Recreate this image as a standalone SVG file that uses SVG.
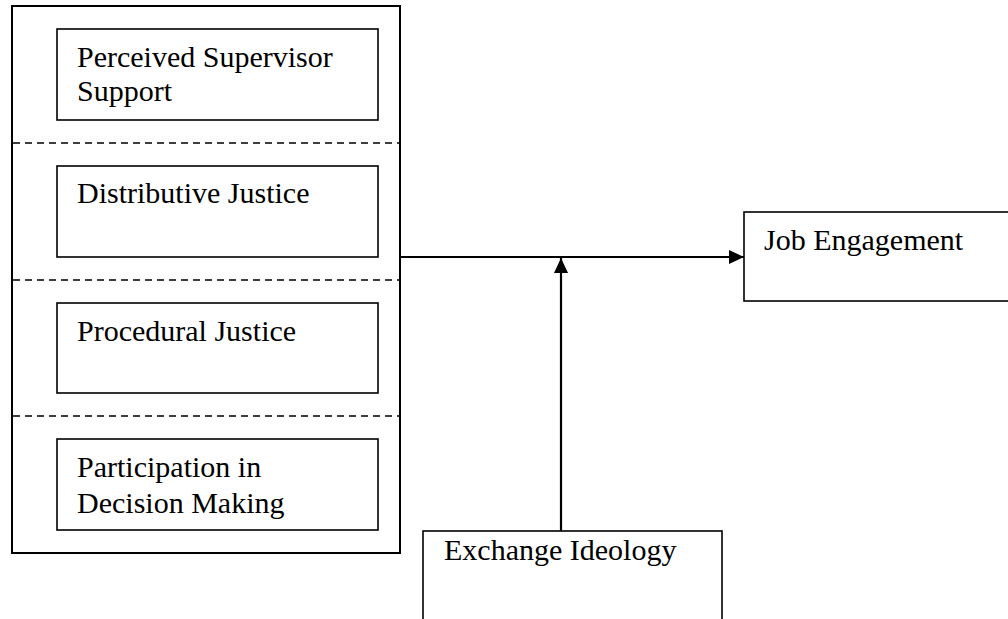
<svg xmlns="http://www.w3.org/2000/svg" width="1008" height="619" viewBox="0 0 1008 619">
<style>
text{font-family:"Liberation Serif","Times New Roman",serif;font-size:30px;fill:#000}
.outer{fill:none;stroke:#000;stroke-width:2}
.box{fill:#fff;stroke:#000;stroke-width:1.6}
.dash{stroke:#000;stroke-width:1.5;stroke-dasharray:7 5;fill:none}
.conn{stroke:#000;stroke-width:2.2;fill:none}
</style>
<defs>
<marker id="arr" markerWidth="16" markerHeight="14" refX="15" refY="7" orient="auto" markerUnits="userSpaceOnUse">
<path d="M0,0 L15,7 L0,14 Z" fill="#000"/>
</marker>
</defs>
<rect width="1008" height="619" fill="#fff"/>
<g id="antecedents">
<rect class="outer" x="12" y="6" width="388" height="547"/>
<line class="dash" x1="13" y1="143" x2="400" y2="143"/>
<line class="dash" x1="13" y1="280" x2="400" y2="280"/>
<line class="dash" x1="13" y1="416" x2="400" y2="416"/>
</g>
<g id="pss">
<rect class="box" x="57" y="29" width="321" height="91"/>
<text x="77" y="67">Perceived Supervisor</text>
<text x="77" y="101">Support</text>
</g>
<g id="dj">
<rect class="box" x="57" y="166" width="321" height="91"/>
<text x="77" y="203">Distributive Justice</text>
</g>
<g id="pj">
<rect class="box" x="57" y="303" width="321" height="90"/>
<text x="77" y="341">Procedural Justice</text>
</g>
<g id="pdm">
<rect class="box" x="57" y="439" width="321" height="91"/>
<text x="77" y="477">Participation in</text>
<text x="77" y="513">Decision Making</text>
</g>
<g id="je">
<rect class="box" x="744" y="212" width="280" height="89"/>
<text x="764" y="250">Job Engagement</text>
</g>
<g id="ei">
<rect class="box" x="423" y="531" width="299" height="100"/>
<text x="444" y="560">Exchange Ideology</text>
</g>
<g id="connectors">
<line class="conn" x1="400" y1="257" x2="744" y2="257" marker-end="url(#arr)"/>
<line class="conn" x1="561" y1="531" x2="561" y2="258" marker-end="url(#arr)"/>
</g>
</svg>
